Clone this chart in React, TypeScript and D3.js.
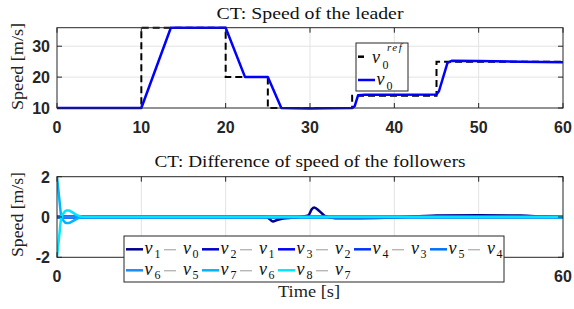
import React from 'react';
import * as d3 from 'd3';

// leader: reference speed (step) and actual speed
const refT = [0, 10, 10, 20, 20, 25, 25, 35, 35, 45, 45, 60];
const refV = [10, 10, 36, 36, 20, 20, 10, 10, 14, 14, 25, 25];
const leadT = [0, 10, 13.5, 20, 22.3, 25, 26.6, 28, 30, 32, 35, 35.3, 35.7, 36.5, 40, 45, 45.3, 46.3, 46.8, 50, 55, 60];
const leadV = [10, 10, 36, 36, 20, 20, 10, 9.95, 9.85, 9.9, 10, 10.6, 14.1, 14.3, 14.3, 14.4, 15.5, 24.6, 25.3, 25.2, 25, 24.8];

// followers: speed differences
const d1T = [0, 24.8, 25.2, 25.6, 26.1, 26.8, 28, 29.8, 30.2, 30.5, 31.1, 31.8, 33, 36, 40, 42, 45, 50, 55, 58, 60];
const d1V = [0, 0, -0.1, -0.22, -0.15, -0.08, -0.03, 0.08, 0.38, 0.47, 0.3, 0.04, -0.06, -0.06, -0.03, 0.02, 0.07, 0.09, 0.07, 0.02, 0];
const flatT = [0, 60];
const flatV = [0, 0];
const trT = [0, 0.25, 0.5, 0.8, 1.1, 1.4, 1.8, 2.3, 2.8, 3.3, 60];
const d7V = [2, 1.0, 0.05, -0.2, -0.3, -0.3, -0.22, -0.1, -0.03, 0, 0];
const d8V = [-2, -1.0, -0.05, 0.2, 0.32, 0.32, 0.24, 0.1, 0.03, 0, 0];

const diffNames = [['1', '0'], ['2', '1'], ['3', '2'], ['4', '3'], ['5', '4'], ['6', '5'], ['7', '6'], ['8', '7']];
const diffColors = ['#00008f', '#0000cc', '#0000ff', '#0033ff', '#0070ff', '#1a8cff', '#00b4ff', '#00e6ff'];
const diffSeries = [
  { t: d1T, v: d1V },
  { t: flatT, v: flatV },
  { t: flatT, v: flatV },
  { t: flatT, v: flatV },
  { t: flatT, v: flatV },
  { t: flatT, v: flatV },
  { t: trT, v: d7V },
  { t: trT, v: d8V },
];

const xTicks = [0, 10, 20, 30, 40, 50, 60];
const botXLabels = [0, 60]; // the others sit under the legend
const topYTicks = [10, 20, 30];
const botYTicks = [-2, 0, 2];

const L = 57, R = 563;
const axisColor = '#262626';
const gridColor = '#e3e3e3';
const serif = "'Liberation Serif', 'DejaVu Serif', serif";
const sans = "'Liberation Sans', Arial, sans-serif";

type Pt = [number, number];
const zip = (t: number[], v: number[]): Pt[] => t.map((d, i) => [d, v[i]]);

function Grid({ x, y, top, bottom, yTicks, id }: any) {
  return (
    <g>
      {xTicks.slice(1, -1).map(t => (
        <line key={'gx' + t} x1={x(t)} x2={x(t)} y1={top} y2={bottom} stroke={gridColor} />
      ))}
      {yTicks.map((t: number) => (
        <line key={'gy' + t} x1={L} x2={R} y1={y(t)} y2={y(t)} stroke={gridColor} />
      ))}
      <defs>
        <clipPath id={id}>
          <rect x={L} y={top - 2} width={R - L} height={bottom - top + 4} />
        </clipPath>
      </defs>
    </g>
  );
}

function Box({ x, y, top, bottom, yTicks }: any) {
  return (
    <g stroke={axisColor} strokeWidth={1}>
      <rect x={L} y={top} width={R - L} height={bottom - top} fill="none" />
      {xTicks.map(t => (
        <g key={'tx' + t}>
          <line x1={x(t)} x2={x(t)} y1={bottom} y2={bottom - 5} />
          <line x1={x(t)} x2={x(t)} y1={top} y2={top + 5} />
        </g>
      ))}
      {yTicks.map((t: number) => (
        <g key={'ty' + t}>
          <line x1={L} x2={L + 5} y1={y(t)} y2={y(t)} />
          <line x1={R} x2={R - 5} y1={y(t)} y2={y(t)} />
        </g>
      ))}
    </g>
  );
}

function TickLabels({ x, y, bottom, xLabels, yTicks }: any) {
  return (
    <g fontFamily={sans} fontWeight="bold" fontSize={16} fill={axisColor}>
      {xLabels.map((t: number) => (
        <text key={'lx' + t} x={x(t)} y={bottom + 25} textAnchor="middle">{t}</text>
      ))}
      {yTicks.map((t: number) => (
        <text key={'ly' + t} x={50} y={y(t) + 6} textAnchor="end">{t}</text>
      ))}
    </g>
  );
}

export default function App() {
  const x = d3.scaleLinear().domain([0, 60]).range([L, R]);
  const yTop = d3.scaleLinear().domain([10, 36]).range([108, 27.7]);
  const yBot = d3.scaleLinear().domain([-2, 2]).range([257.3, 176.7]);

  const lineTop = d3.line<Pt>().x(d => x(d[0])).y(d => yTop(d[1]));
  const lineBot = d3.line<Pt>().x(d => x(d[0])).y(d => yBot(d[1])).curve(d3.curveMonotoneX);

  return (
    <svg width={574} height={309} style={{ position: 'absolute', left: 0, top: 0, background: '#fff' }}>
      {/* top panel */}
      <text x={310} y={19} textAnchor="middle" fontFamily={serif} fontSize={17} textLength={187} lengthAdjust="spacingAndGlyphs" fill="#111">
        CT: Speed of the leader
      </text>
      <Grid x={x} y={yTop} top={27.7} bottom={108} yTicks={[20, 30]} id="clipTop" />
      <g clipPath="url(#clipTop)" fill="none">
        <path d={lineTop(zip(refT, refV)) || ''} stroke="#000" strokeWidth={2} strokeDasharray="7,4" />
        <path d={lineTop(zip(leadT, leadV)) || ''} stroke="#0000ff" strokeWidth={2.5} strokeLinejoin="round" />
      </g>
      <Box x={x} y={yTop} top={27.7} bottom={108} yTicks={topYTicks} />
      <TickLabels x={x} y={yTop} bottom={108} xLabels={xTicks} yTicks={topYTicks} />
      <text transform="translate(23,66.5) rotate(-90)" textAnchor="middle" fontFamily={serif} fontSize={17} textLength={87} lengthAdjust="spacingAndGlyphs" fill="#222">
        Speed [m/s]
      </text>

      {/* top legend */}
      <g>
        <rect x={356} y={43} width={52} height={48} fill="#fff" stroke={axisColor} />
        <line x1={358} x2={364} y1={56.7} y2={56.7} stroke="#000" strokeWidth={2.5} />
        <g fontFamily={serif} fill="#111">
          <text x={372} y={63} fontSize={18} fontStyle="italic">v</text>
          <text x={382.5} y={69} fontSize={12}>0</text>
          <text x={387} y={51} fontSize={11} fontStyle="italic" letterSpacing={1.5}>ref</text>
        </g>
        <line x1={358} x2={375} y1={80} y2={80} stroke="#0000ff" strokeWidth={2.5} />
        <g fontFamily={serif} fill="#111">
          <text x={376.5} y={85} fontSize={18} fontStyle="italic">v</text>
          <text x={386.5} y={90} fontSize={12}>0</text>
        </g>
      </g>

      {/* bottom panel */}
      <text x={310} y={167} textAnchor="middle" fontFamily={serif} fontSize={17} textLength={311} lengthAdjust="spacingAndGlyphs" fill="#111">
        CT: Difference of speed of the followers
      </text>
      <Grid x={x} y={yBot} top={176.7} bottom={257.3} yTicks={[0]} id="clipBot" />
      <g clipPath="url(#clipBot)" fill="none">
        {diffSeries.map((s, i) => (
          <path key={i} d={lineBot(zip(s.t, s.v)) || ''} stroke={diffColors[i]} strokeWidth={2.5} strokeLinejoin="round" />
        ))}
      </g>
      <Box x={x} y={yBot} top={176.7} bottom={257.3} yTicks={botYTicks} />
      <TickLabels x={x} y={yBot} bottom={257.3} xLabels={botXLabels} yTicks={botYTicks} />
      <text transform="translate(23,214.5) rotate(-90)" textAnchor="middle" fontFamily={serif} fontSize={17} textLength={85} lengthAdjust="spacingAndGlyphs" fill="#222">
        Speed [m/s]
      </text>
      <text x={309} y={297} textAnchor="middle" fontFamily={serif} fontSize={17} textLength={62} lengthAdjust="spacingAndGlyphs" fill="#222">
        Time [s]
      </text>

      {/* bottom legend */}
      <g>
        <rect x={124} y={236} width={380} height={46} fill="#fff" stroke={axisColor} />
        {diffNames.map((n, i) => {
          const col = i % 5;
          const row = Math.floor(i / 5);
          const x0 = 126 + col * 76;
          const yl = 249.3 + row * 21;
          return (
            <g key={'lg' + i} fontFamily={serif}>
              <line x1={x0} x2={x0 + 17} y1={yl} y2={yl} stroke={diffColors[i]} strokeWidth={2.5} />
              <text x={x0 + 18.5} y={yl + 5} fontSize={18} fontStyle="italic" fill="#111">v</text>
              <text x={x0 + 28.5} y={yl + 9} fontSize={12} fill="#111">{n[0]}</text>
              <line x1={x0 + 38} x2={x0 + 50} y1={yl + 0.5} y2={yl + 0.5} stroke="#999" strokeWidth={1} />
              <text x={x0 + 57} y={yl + 5} fontSize={18} fontStyle="italic" fill="#111">v</text>
              <text x={x0 + 66.5} y={yl + 9} fontSize={12} fill="#111">{n[1]}</text>
            </g>
          );
        })}
      </g>
    </svg>
  );
}
